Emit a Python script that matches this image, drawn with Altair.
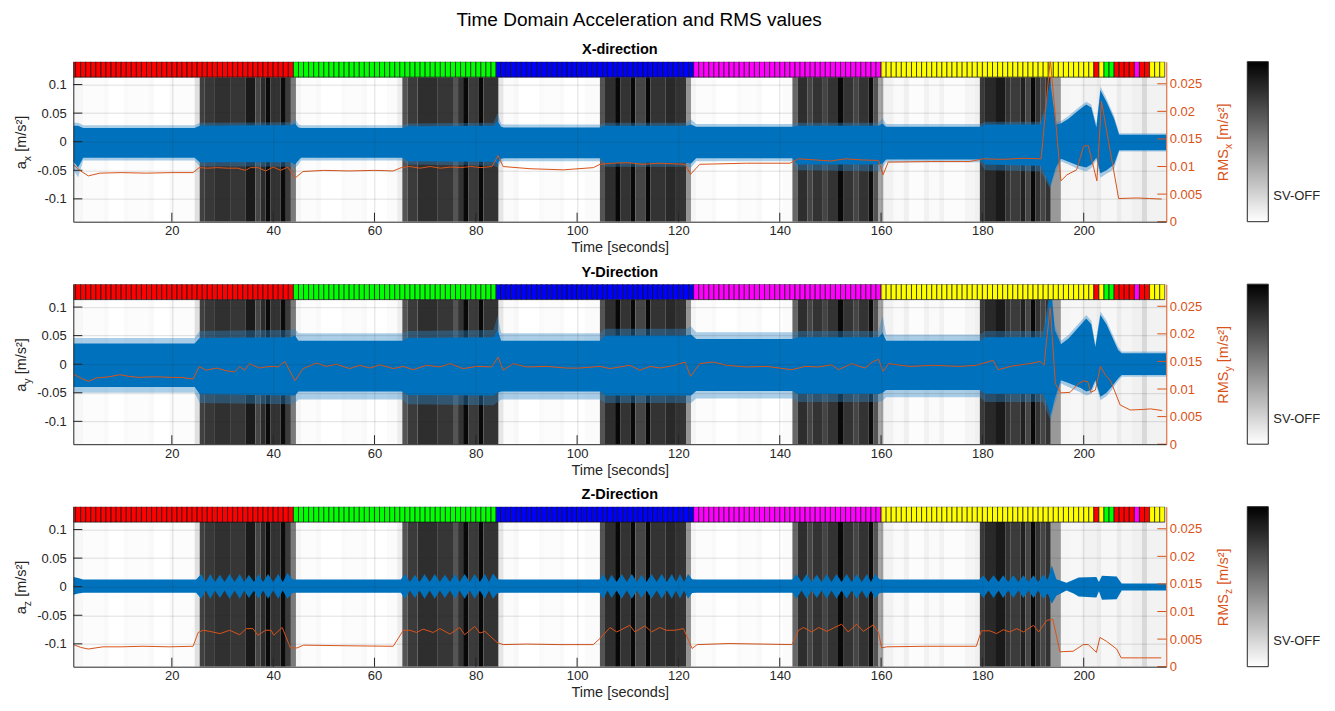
import altair as alt
import pandas as pd

FONT = "Liberation Sans"
INK = "#262626"
ORANGE = "#D95319"
BLUE = "#0072BD"
SPIKE_BLUE = "#2f86c8"

W, H = 1093, 160
T_RANGE = [0.55, 216.3]
ACC_RANGE = [-0.14, 0.14]
RMS_RANGE = [0.0, 0.029]
BAR_BOTTOM = 0.113

X_TICKS = [20, 40, 60, 80, 100, 120, 140, 160, 180, 200]
ACC_TICKS = [-0.1, -0.05, 0, 0.05, 0.1]
RMS_TICKS = [0, 0.005, 0.01, 0.015, 0.02, 0.025]

# ---- operating state per one-second window (colour strip on top) ----
STATE_COLORS = ["#ff0000", "#00ff00", "#0000ff", "#ff00ff", "#ffff00", "#ff0000",
                "#ffff00", "#00ff00", "#ff0000", "#ff00ff", "#ff0000", "#ffff00"]
STATE_COUNTS = [44, 40, 39, 37, 42, 1, 1, 2, 4, 1, 2, 3]

# ---- grey background level per window (0 = white, 1 = black), run-length coded ----
BG_COUNTS = [2, 4, 1, 3, 1, 4, 1, 3, 1, 4,
             1,
             1, 2, 3, 3,
             2, 1, 1, 1, 2, 1, 1,
             1, 1,
             3, 1, 4, 1, 3, 1, 4, 2,
             1, 1,
             2, 4, 3,
             1, 1, 1, 2, 1, 3,
             1,
             2, 1, 4, 1, 3, 1, 4, 3,
             1, 2, 1, 2, 1, 2, 1, 3, 2, 2,
             1, 1,
             3, 1, 4, 1, 3, 1, 4, 2,
             1, 2, 1, 2, 1, 2, 1, 2, 1, 2, 1, 1,
             1,
             2, 2, 1, 3, 1, 2, 1, 4, 2, 1,
             1, 2, 2, 1, 2, 1, 1, 1, 1, 1, 1,
             2,
             2, 2, 3, 1, 3, 1, 2, 2, 1, 4]
BG_LEVELS = [0.03, 0.01, 0.025, 0.0, 0.02, 0.01, 0.025, 0.0, 0.02, 0.01,
             0.12,
             0.75, 0.78, 0.81, 0.79,
             0.90, 0.73, 0.83, 0.96, 0.80, 0.96, 0.77,
             0.52, 0.04,
             0.01, 0.025, 0.0, 0.02, 0.01, 0.025, 0.0, 0.015,
             0.07, 0.67,
             0.77, 0.82, 0.79,
             0.67, 0.80, 0.97, 0.77, 0.97, 0.80,
             0.10,
             0.015, 0.03, 0.0, 0.02, 0.01, 0.025, 0.0, 0.015,
             0.67, 0.82, 0.97, 0.80, 0.97, 0.73, 0.97, 0.80, 0.84, 0.80,
             0.42, 0.04,
             0.01, 0.025, 0.0, 0.02, 0.01, 0.025, 0.0, 0.015,
             0.60, 0.82, 0.73, 0.80, 0.73, 0.80, 0.97, 0.80, 0.73, 0.80, 0.95, 0.67,
             0.35,
             0.05, 0.02, 0.06, 0.01, 0.05, 0.02, 0.05, 0.01, 0.04, 0.06,
             0.77, 0.84, 0.90, 0.80, 0.77, 0.87, 0.73, 0.97, 0.80, 0.73, 0.80,
             0.40,
             0.04, 0.03, 0.05, 0.08, 0.03, 0.08, 0.04, 0.06, 0.15, 0.05]

# ---- acceleration envelopes [m/s^2]: dense band and spike extent ----
X_T = [0.6, 1.5, 2.5, 24.5, 25.5, 43.5, 44.3, 45.0, 45.5, 65.5,
       66.5, 83.5, 84.3, 85.0, 85.5, 104.5, 105.5, 121.5, 122.5, 123.5,
       142.5, 143.5, 159.5, 160.3, 161.0, 179.5, 180.5, 191.5, 192.5, 193.4,
       194.5, 195.5, 197.0, 199.0, 200.5, 201.5, 202.5, 203.3, 204.5, 206.0,
       207.0, 216.3]
X_UP = [0.028, 0.028, 0.024, 0.024, 0.028, 0.029, 0.032, 0.025, 0.024, 0.024,
        0.027, 0.028, 0.036, 0.026, 0.025, 0.025, 0.028, 0.028, 0.030, 0.026,
        0.026, 0.028, 0.028, 0.032, 0.026, 0.026, 0.030, 0.030, 0.060, 0.105,
        0.030, 0.032, 0.040, 0.055, 0.065, 0.060, 0.025, 0.090, 0.070, 0.040,
        0.012, 0.012]
X_LO = [-0.035, -0.045, -0.028, -0.028, -0.036, -0.036, -0.040, -0.033, -0.028, -0.028,
        -0.034, -0.035, -0.038, -0.030, -0.029, -0.029, -0.037, -0.037, -0.038, -0.029,
        -0.029, -0.040, -0.040, -0.038, -0.031, -0.031, -0.040, -0.042, -0.060, -0.078,
        -0.045, -0.030, -0.035, -0.042, -0.045, -0.040, -0.028, -0.055, -0.050, -0.040,
        -0.015, -0.015]
X_SPK_UP = [0.033, 0.033, 0.029, 0.029, 0.033, 0.034, 0.040, 0.030, 0.029, 0.029,
            0.032, 0.033, 0.050, 0.031, 0.030, 0.030, 0.033, 0.033, 0.039, 0.031,
            0.031, 0.033, 0.033, 0.041, 0.031, 0.031, 0.035, 0.035, 0.065, 0.110,
            0.035, 0.036, 0.045, 0.060, 0.070, 0.065, 0.030, 0.097, 0.075, 0.045,
            0.015, 0.015]
X_SPK_LO = [-0.050, -0.062, -0.033, -0.033, -0.043, -0.044, -0.046, -0.040, -0.033, -0.033,
            -0.040, -0.042, -0.045, -0.035, -0.034, -0.034, -0.044, -0.044, -0.045, -0.034,
            -0.034, -0.050, -0.052, -0.045, -0.036, -0.036, -0.050, -0.052, -0.068, -0.082,
            -0.052, -0.034, -0.040, -0.048, -0.052, -0.046, -0.032, -0.063, -0.056, -0.048,
            -0.017, -0.017]

Y_T = [0.6, 24.5, 25.5, 43.5, 44.3, 45.0, 65.5, 66.5, 83.5, 84.3,
       85.0, 104.5, 105.5, 121.5, 122.5, 123.5, 142.5, 143.5, 159.5, 160.3,
       161.0, 179.5, 180.5, 192.0, 192.8, 193.5, 194.3, 195.5, 197.0, 199.5,
       200.5, 201.5, 202.3, 203.3, 204.5, 205.5, 206.8, 207.5, 216.3]
Y_UP = [0.036, 0.036, 0.046, 0.047, 0.050, 0.041, 0.041, 0.046, 0.047, 0.060,
        0.041, 0.041, 0.050, 0.050, 0.052, 0.044, 0.044, 0.047, 0.047, 0.055,
        0.041, 0.041, 0.047, 0.047, 0.090, 0.140, 0.060, 0.035, 0.045, 0.070,
        0.080, 0.070, 0.030, 0.086, 0.070, 0.050, 0.025, 0.019, 0.019]
Y_LO = [-0.040, -0.040, -0.052, -0.055, -0.055, -0.048, -0.048, -0.054, -0.055, -0.050,
        -0.048, -0.048, -0.055, -0.055, -0.055, -0.047, -0.047, -0.052, -0.052, -0.050,
        -0.045, -0.045, -0.052, -0.052, -0.070, -0.090, -0.060, -0.028, -0.033, -0.042,
        -0.048, -0.045, -0.028, -0.057, -0.050, -0.040, -0.025, -0.019, -0.019]
Y_SPK_UP = [0.046, 0.046, 0.058, 0.060, 0.062, 0.054, 0.054, 0.058, 0.060, 0.085,
            0.054, 0.054, 0.062, 0.062, 0.066, 0.056, 0.056, 0.058, 0.058, 0.085,
            0.052, 0.052, 0.058, 0.058, 0.100, 0.142, 0.068, 0.041, 0.051, 0.076,
            0.086, 0.076, 0.035, 0.092, 0.076, 0.056, 0.030, 0.022, 0.022]
Y_SPK_LO = [-0.050, -0.050, -0.068, -0.070, -0.068, -0.062, -0.062, -0.070, -0.072, -0.066,
            -0.062, -0.062, -0.068, -0.068, -0.068, -0.060, -0.060, -0.066, -0.066, -0.064,
            -0.058, -0.058, -0.066, -0.066, -0.085, -0.098, -0.070, -0.034, -0.040, -0.050,
            -0.055, -0.052, -0.033, -0.063, -0.056, -0.046, -0.029, -0.022, -0.022]

Z_T = [0.6, 1.5, 2.5, 24.8,
       25.8, 26.7, 27.6, 28.5, 29.5, 30.4, 31.4, 32.4, 33.4, 34.3,
       35.2, 36.2, 37.1, 38.0, 39.0, 40.0, 41.0, 41.9, 42.8, 43.8,
       44.5, 65.2,
       66.0, 67.0, 68.0, 68.9, 69.9, 70.9, 71.9, 72.9, 73.9, 74.9,
       75.9, 76.8, 77.8, 78.8, 79.8, 80.8, 81.8, 82.6, 83.4, 84.3,
       85.0, 104.4,
       105.2, 106.0, 106.8, 107.8, 108.8, 109.8, 110.8, 111.8, 112.7, 113.7,
       114.7, 115.7, 116.7, 117.7, 118.7, 119.5, 120.3, 121.1, 121.9, 122.7,
       123.5, 142.5,
       143.3, 144.3, 145.3, 146.3, 147.3, 148.3, 149.3, 150.2, 151.2, 152.2,
       153.2, 154.2, 155.2, 156.2, 157.2, 158.0, 158.8, 159.7,
       160.5, 179.4,
       180.2, 181.2, 182.2, 183.2, 184.1, 185.1, 186.1, 187.1, 188.1, 189.1,
       190.1, 191.0, 192.0, 192.9, 193.7,
       194.6, 196.6, 198.0, 199.0, 202.5, 203.0, 203.6, 206.5, 207.5, 216.3]
Z_UP = [0.017, 0.015, 0.0125, 0.0125,
        0.022, 0.008, 0.022, 0.008, 0.021, 0.008, 0.022, 0.008, 0.022, 0.008,
        0.021, 0.008, 0.022, 0.008, 0.022, 0.008, 0.022, 0.008, 0.024, 0.013,
        0.0125, 0.0125,
        0.022, 0.008, 0.021, 0.008, 0.022, 0.008, 0.022, 0.008, 0.021, 0.008,
        0.022, 0.008, 0.022, 0.008, 0.022, 0.008, 0.022, 0.008, 0.023, 0.013,
        0.0125, 0.0125,
        0.022, 0.008, 0.021, 0.008, 0.022, 0.008, 0.022, 0.008, 0.021, 0.008,
        0.022, 0.008, 0.022, 0.008, 0.022, 0.008, 0.022, 0.008, 0.022, 0.013,
        0.0125, 0.0125,
        0.022, 0.008, 0.022, 0.008, 0.021, 0.008, 0.022, 0.008, 0.022, 0.008,
        0.022, 0.008, 0.022, 0.008, 0.022, 0.008, 0.022, 0.013,
        0.0125, 0.0125,
        0.020, 0.008, 0.020, 0.008, 0.020, 0.008, 0.020, 0.008, 0.020, 0.008,
        0.020, 0.008, 0.021, 0.012, 0.037,
        0.013, 0.007, 0.012, 0.016, 0.017, 0.008, 0.019, 0.018, 0.0055, 0.0055]
Z_LO = [-0.014, -0.012, -0.0105, -0.0105,
        -0.021, -0.0065, -0.021, -0.0065, -0.020, -0.0065, -0.021, -0.0065, -0.021, -0.0065,
        -0.020, -0.0065, -0.021, -0.0065, -0.021, -0.0065, -0.021, -0.0065, -0.021, -0.011,
        -0.0105, -0.0105,
        -0.021, -0.0065, -0.020, -0.0065, -0.021, -0.0065, -0.021, -0.0065, -0.020, -0.0065,
        -0.021, -0.0065, -0.021, -0.0065, -0.021, -0.0065, -0.021, -0.0065, -0.021, -0.011,
        -0.0105, -0.0105,
        -0.021, -0.0065, -0.020, -0.0065, -0.021, -0.0065, -0.021, -0.0065, -0.020, -0.0065,
        -0.021, -0.0065, -0.021, -0.0065, -0.021, -0.0065, -0.021, -0.0065, -0.021, -0.011,
        -0.0105, -0.0105,
        -0.021, -0.0065, -0.021, -0.0065, -0.020, -0.0065, -0.021, -0.0065, -0.021, -0.0065,
        -0.021, -0.0065, -0.021, -0.0065, -0.021, -0.0065, -0.021, -0.011,
        -0.0105, -0.0105,
        -0.020, -0.0065, -0.020, -0.0065, -0.020, -0.0065, -0.020, -0.0065, -0.020, -0.0065,
        -0.020, -0.0065, -0.021, -0.012, -0.030,
        -0.016, -0.0065, -0.012, -0.017, -0.019, -0.008, -0.023, -0.022, -0.0065, -0.0065]

# ---- RMS per window [m/s^2] ----
RMSX_T = [0.6, 2.0, 3.5, 5.8, 10.0, 15.0, 20.0, 24.2, 25.4, 27.0,
          29.0, 31.0, 33.0, 34.5, 35.5, 37.0, 38.5, 40.0, 41.5, 42.9,
          44.3, 45.9, 50.0, 55.0, 60.0, 63.7, 65.3, 66.9, 69.0, 71.0,
          73.0, 75.0, 77.0, 79.0, 81.0, 83.2, 84.4, 85.4, 90.7, 97.3,
          103.2, 104.5, 107.0, 110.0, 113.0, 116.0, 119.0, 121.3, 122.4, 124.2,
          133.4, 142.0, 143.7, 147.0, 150.0, 153.0, 156.0, 159.5, 160.4, 161.4,
          170.0, 177.5, 180.2, 184.1, 188.0, 191.6, 193.4, 195.5, 196.7, 198.6,
          200.0, 200.9, 202.6, 203.5, 206.9, 210.5, 213.0, 215.4]
RMSX_V = [0.0103, 0.0092, 0.0083, 0.0088, 0.0089, 0.0088, 0.0089, 0.0089, 0.0098, 0.0097,
          0.0098, 0.0097, 0.0097, 0.0093, 0.0098, 0.0098, 0.0092, 0.0099, 0.0093, 0.0099,
          0.0079, 0.0091, 0.0093, 0.0092, 0.0093, 0.0092, 0.0098, 0.0100, 0.0097, 0.0100,
          0.0097, 0.0099, 0.0098, 0.0100, 0.0098, 0.0100, 0.0120, 0.0100, 0.0096, 0.0094,
          0.0098, 0.0104, 0.0106, 0.0107, 0.0104, 0.0106, 0.0105, 0.0104, 0.0086, 0.0104,
          0.0106, 0.0106, 0.0114, 0.0112, 0.0110, 0.0114, 0.0112, 0.0111, 0.0085, 0.0108,
          0.0109, 0.0109, 0.0114, 0.0113, 0.0115, 0.0114, 0.0295, 0.0074, 0.0085, 0.0094,
          0.0137, 0.0138, 0.0074, 0.0218, 0.0042, 0.0043, 0.0042, 0.0041]

RMSY_T = [0.6, 2.0, 3.5, 5.1, 7.5, 9.7, 11.5, 13.6, 15.5, 17.6,
          20.0, 22.0, 24.2, 25.4, 26.8, 28.8, 30.8, 32.4, 33.4, 34.4,
          35.3, 37.3, 38.5, 40.0, 41.0, 42.3, 44.3, 45.9, 48.6, 50.5,
          52.5, 55.1, 57.1, 59.1, 61.1, 63.7, 65.7, 67.6, 70.3, 72.9,
          74.9, 77.5, 80.2, 83.1, 84.4, 85.4, 87.4, 90.0, 94.0, 97.9,
          100.5, 104.5, 106.5, 110.4, 112.4, 114.4, 116.4, 119.3, 121.3, 122.4,
          124.2, 126.8, 129.5, 133.4, 137.4, 142.4, 145.0, 147.7, 150.3, 151.6,
          154.2, 156.8, 158.3, 159.5, 160.4, 161.5, 165.7, 170.3, 175.5, 178.8,
          182.1, 183.1, 186.0, 189.3, 191.4, 192.2, 192.6, 193.4, 194.4, 195.5,
          197.3, 199.0, 200.0, 200.8, 201.4, 202.3, 203.3, 204.3, 205.3, 207.2,
          209.2, 211.8, 213.2, 215.5]
RMSY_V = [0.0127, 0.0120, 0.0114, 0.0120, 0.0122, 0.0126, 0.0123, 0.0121, 0.0122, 0.0122,
          0.0121, 0.0121, 0.0118, 0.0141, 0.0134, 0.0138, 0.0133, 0.0131, 0.0141, 0.0134,
          0.0146, 0.0138, 0.0140, 0.0141, 0.0140, 0.0150, 0.0115, 0.0137, 0.0147, 0.0141,
          0.0145, 0.0137, 0.0143, 0.0138, 0.0144, 0.0137, 0.0141, 0.0135, 0.0143, 0.0140,
          0.0146, 0.0137, 0.0141, 0.0140, 0.0158, 0.0134, 0.0146, 0.0140, 0.0141, 0.0138,
          0.0138, 0.0141, 0.0137, 0.0143, 0.0134, 0.0141, 0.0138, 0.0143, 0.0149, 0.0123,
          0.0146, 0.0149, 0.0143, 0.0140, 0.0141, 0.0135, 0.0141, 0.0140, 0.0144, 0.0135,
          0.0146, 0.0138, 0.0149, 0.0154, 0.0132, 0.0146, 0.0141, 0.0143, 0.0141, 0.0143,
          0.0152, 0.0135, 0.0142, 0.0146, 0.0150, 0.0143, 0.0183, 0.0248, 0.0110, 0.0093,
          0.0094, 0.0110, 0.0115, 0.0113, 0.0094, 0.0098, 0.0141, 0.0125, 0.0115, 0.0071,
          0.0062, 0.0063, 0.0064, 0.0061]

RMSZ_T = [0.6, 2.0, 3.5, 6.4, 10.0, 14.3, 19.5, 24.2, 25.2, 26.2,
          27.5, 29.5, 31.4, 33.4, 34.7, 36.0, 37.0, 38.5, 39.6, 40.1,
          41.8, 43.4, 44.7, 46.0, 54.0, 63.7, 65.7, 67.0, 68.3, 69.6,
          71.6, 72.9, 74.9, 76.8, 77.8, 79.8, 80.8, 81.8, 84.2, 85.4,
          90.0, 96.6, 103.2, 104.5, 106.5, 107.8, 108.5, 110.4, 111.4, 113.4,
          114.7, 116.3, 117.6, 119.3, 121.0, 122.7, 123.7, 130.0, 136.5, 142.4,
          143.7, 144.7, 146.3, 147.7, 149.3, 150.6, 152.2, 153.5, 155.2, 156.5,
          158.5, 159.5, 160.1, 161.1, 169.0, 178.8, 179.8, 181.5, 182.8, 184.1,
          185.4, 186.8, 188.1, 190.1, 191.1, 192.7, 193.9, 195.3, 197.9, 199.9,
          200.9, 202.5, 203.2, 204.5, 206.5, 207.4, 211.0, 215.3]
RMSZ_V = [0.0040, 0.0035, 0.0032, 0.0036, 0.0036, 0.0037, 0.0036, 0.0037, 0.0062, 0.0066,
          0.0064, 0.0060, 0.0066, 0.0058, 0.0069, 0.0069, 0.0057, 0.0066, 0.0066, 0.0057,
          0.0071, 0.0034, 0.0034, 0.0039, 0.0038, 0.0037, 0.0066, 0.0066, 0.0062, 0.0068,
          0.0062, 0.0069, 0.0059, 0.0071, 0.0058, 0.0073, 0.0061, 0.0064, 0.0044, 0.0040,
          0.0041, 0.0040, 0.0040, 0.0051, 0.0071, 0.0063, 0.0066, 0.0075, 0.0063, 0.0074,
          0.0063, 0.0071, 0.0066, 0.0066, 0.0069, 0.0033, 0.0040, 0.0042, 0.0041, 0.0040,
          0.0066, 0.0071, 0.0063, 0.0071, 0.0064, 0.0070, 0.0077, 0.0063, 0.0077, 0.0064,
          0.0076, 0.0062, 0.0034, 0.0036, 0.0037, 0.0037, 0.0065, 0.0065, 0.0060, 0.0067,
          0.0063, 0.0069, 0.0063, 0.0075, 0.0063, 0.0084, 0.0086, 0.0027, 0.0028, 0.0040,
          0.0040, 0.0026, 0.0053, 0.0046, 0.0032, 0.0016, 0.0016, 0.0016]

# ---- tables built from the lists above ----
state_rows, k = [], 0
for col, n in zip(STATE_COLORS, STATE_COUNTS):
    for _ in range(n):
        state_rows.append({"t0": k, "t1": k + 1, "c": col})
        k += 1
state_df = pd.DataFrame(state_rows)

bg_rows, k = [], 1
for n, lv in zip(BG_COUNTS, BG_LEVELS):
    bg_rows.append({"t0": k - 0.5, "t1": k - 0.5 + n, "level": lv})
    k += n
bg_df = pd.DataFrame(bg_rows)

one_row = pd.DataFrame({"k": [0]})

XS = alt.Scale(domain=T_RANGE, nice=False, zero=False)
YS = alt.Scale(domain=ACC_RANGE, nice=False, zero=False)
RS = alt.Scale(domain=RMS_RANGE, nice=False, zero=False)

XAX = alt.Axis(values=X_TICKS, title="Time [seconds]", grid=True, gridColor=INK,
               gridOpacity=0.15, tickSize=0, labelPadding=3, domainColor=INK,
               labelColor=INK, titleColor=INK, labelFontSize=13, titleFontSize=14.5,
               titleFontWeight="normal", titlePadding=3, labelFont=FONT,
               titleFont=FONT, zindex=1)
YAX = alt.Axis(values=ACC_TICKS, labelExpr="toString(datum.value)", title=None,
               grid=True, gridColor=INK, gridOpacity=0.15, tickSize=0,
               labelPadding=7, domainColor=INK, labelColor=INK, labelFontSize=13,
               labelFont=FONT, zindex=1)
RAX = alt.Axis(orient="right", values=RMS_TICKS, labelExpr="toString(datum.value)",
               title=None, grid=False, tickSize=0, labelPadding=3,
               domainColor=ORANGE, labelColor=ORANGE, labelFontSize=13,
               labelFont=FONT, zindex=1)

LABEL_SIZE = 14.5
SUB_SIZE = 10.5


def text_piece(txt, x, y, size, color):
    return alt.Chart(one_row).mark_text(
        text=txt, angle=270, align="left", baseline="alphabetic",
        fontSize=size, font=FONT, color=color
    ).encode(x=alt.value(x), y=alt.value(y))


def rotated_label(head, head_em, letter, x, y0, color):
    # head, subscript letter, then the unit; drawn bottom-to-top
    head_w = head_em * LABEL_SIZE
    sub_w = 0.5 * SUB_SIZE
    space_w = 0.278 * LABEL_SIZE
    return [
        text_piece(head, x, y0, LABEL_SIZE, color),
        text_piece(letter, x + 4.5, y0 - head_w, SUB_SIZE, color),
        text_piece("[m/s²]", x, y0 - head_w - sub_w - space_w, LABEL_SIZE, color),
    ]


def panel(title, letter, acc_t, acc_up, acc_lo, spk_up, spk_lo, rms_t, rms_v):
    acc = pd.DataFrame({"t": acc_t, "up": acc_up, "lo": acc_lo})
    rms = pd.DataFrame({"t": rms_t, "v": rms_v})

    bg = alt.Chart(bg_df).mark_rect(clip=True).encode(
        x=alt.X("t0:Q", scale=XS, axis=XAX),
        x2="t1:Q",
        y=alt.YDatum(ACC_RANGE[0], scale=YS, axis=YAX),
        y2=alt.Y2Datum(BAR_BOTTOM),
        fill=alt.Fill("level:Q",
                      scale=alt.Scale(domain=[0, 1], range=["#ffffff", "#000000"],
                                      interpolate="rgb"),
                      legend=alt.Legend(orient="none", legendX=1174, legendY=0,
                                        direction="vertical", gradientLength=H,
                                        gradientThickness=21, title=None,
                                        values=[0.16], labelExpr="'SV-OFF'",
                                        labelFontSize=13, labelColor=INK,
                                        labelFont=FONT, labelOffset=5,
                                        gradientStrokeColor=INK,
                                        gradientStrokeWidth=1, padding=0)),
    )
    layers = [bg]
    if spk_up is not None:
        spk = pd.DataFrame({"t": acc_t, "su": spk_up, "sl": spk_lo})
        layers.append(alt.Chart(spk).mark_area(color=SPIKE_BLUE, opacity=0.4,
                                               clip=True).encode(
            x=alt.X("t:Q", scale=XS, axis=XAX),
            y=alt.Y("su:Q", scale=YS, axis=YAX),
            y2="sl:Q"))
    layers.append(alt.Chart(acc).mark_area(color=BLUE, clip=True).encode(
        x=alt.X("t:Q", scale=XS, axis=XAX),
        y=alt.Y("up:Q", scale=YS, axis=YAX),
        y2="lo:Q"))
    layers.append(alt.Chart(state_df).mark_rect(stroke="#111111", strokeWidth=0.7,
                                                clip=True).encode(
        x=alt.X("t0:Q", scale=XS, axis=XAX),
        x2="t1:Q",
        y=alt.YDatum(BAR_BOTTOM, scale=YS, axis=YAX),
        y2=alt.Y2Datum(ACC_RANGE[1]),
        color=alt.Color("c:N", scale=None)))
    layers.append(alt.Chart(pd.DataFrame({"v": ACC_TICKS})).mark_rule(
        color=INK, strokeWidth=1).encode(
        y=alt.Y("v:Q", scale=YS, axis=YAX), x=alt.value(0), x2=alt.value(9)))
    layers.append(alt.Chart(pd.DataFrame({"v": X_TICKS})).mark_rule(
        color=INK, strokeWidth=1).encode(
        x=alt.X("v:Q", scale=XS, axis=XAX), y=alt.value(H - 9), y2=alt.value(H)))
    layers += rotated_label("a", 0.556, letter, -47.3, 107.5, INK)
    layers += rotated_label("RMS", 2.222, letter, W + 61.5, 119.5, ORANGE)
    left = alt.layer(*layers)

    right = alt.layer(
        alt.Chart(rms).mark_line(color=ORANGE, strokeWidth=1, clip=True).encode(
            x=alt.X("t:Q", scale=XS, axis=XAX),
            y=alt.Y("v:Q", scale=RS, axis=RAX)),
        alt.Chart(pd.DataFrame({"v": RMS_TICKS})).mark_rule(
            color=ORANGE, strokeWidth=1).encode(
            y=alt.Y("v:Q", scale=RS, axis=RAX), x=alt.value(W - 9), x2=alt.value(W)),
    )
    return alt.layer(left, right).resolve_scale(y="independent").properties(
        width=W, height=H,
        title=alt.TitleParams(title, fontSize=14.5, fontWeight="bold", font=FONT,
                              color="#000000", offset=4, anchor="middle"))


p1 = panel("X-direction", "x", X_T, X_UP, X_LO, X_SPK_UP, X_SPK_LO, RMSX_T, RMSX_V)
p2 = panel("Y-Direction", "y", Y_T, Y_UP, Y_LO, Y_SPK_UP, Y_SPK_LO, RMSY_T, RMSY_V)
p3 = panel("Z-Direction", "z", Z_T, Z_UP, Z_LO, None, None, RMSZ_T, RMSZ_V)

chart = alt.vconcat(p1, p2, p3, spacing=9.5).resolve_scale(
    fill="independent").resolve_legend(fill="independent").properties(
    title=alt.TitleParams("Time Domain Acceleration and RMS values", fontSize=19,
                          fontWeight="normal", font=FONT, color="#000000",
                          anchor="middle", offset=12, dx=-28),
    padding={"left": 13.3, "top": 10.7, "right": 5, "bottom": 5},
).configure(font=FONT).configure_view(stroke=None)

chart.save("out.html", embed_options={"renderer": "svg", "actions": False})
